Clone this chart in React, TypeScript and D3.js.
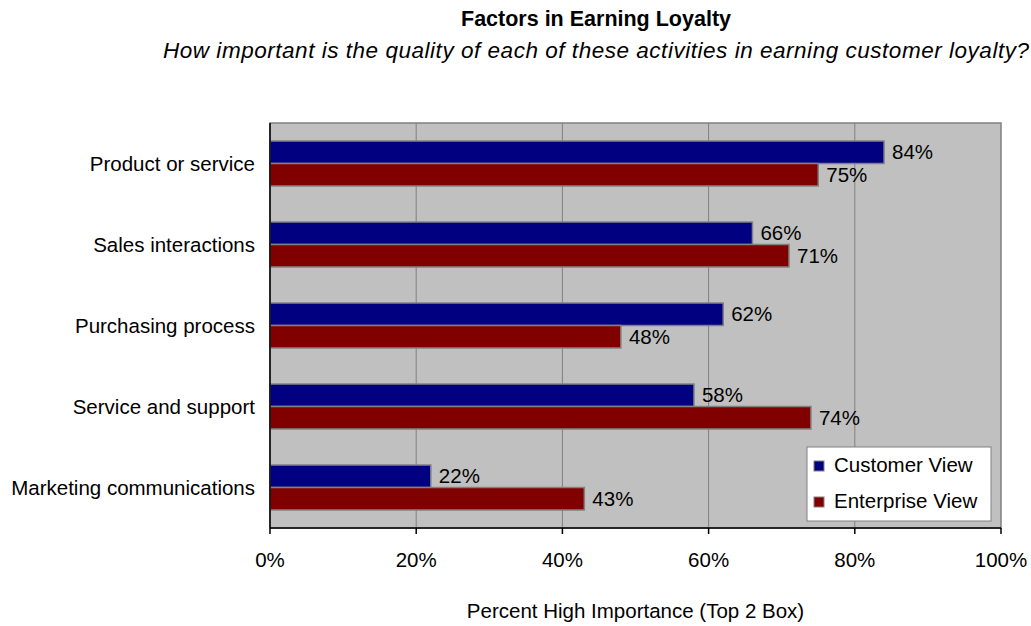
import React from 'react';
import * as d3 from 'd3';

const categories = ['Product or service', 'Sales interactions', 'Purchasing process', 'Service and support', 'Marketing communications'];
const customerView = [84, 66, 62, 58, 22];
const enterpriseView = [75, 71, 48, 74, 43];
const seriesNames = ['Customer View', 'Enterprise View'];
const seriesColors = ['#000080', '#800000'];
const xTicks = [0, 20, 40, 60, 80, 100];

const W = 1031;
const H = 626;
// plot area
const left = 270;
const right = 1001;
const top = 123;
const bottom = 528;

const font = '"Liberation Sans", Arial, sans-serif';
const fs = 20.5;

export default function App() {
  const x = d3.scaleLinear().domain([0, 100]).range([left, right]);
  const y = d3.scaleBand<string>().domain(categories).range([top, bottom]).paddingInner(0.445).paddingOuter(0.2225);
  const inner = d3.scaleBand<number>().domain([0, 1]).range([0, y.bandwidth()]);
  const series = [customerView, enterpriseView];

  return (
    <svg width={W} height={H} style={{ position: 'absolute', left: 0, top: 0 }} fontFamily={font}>
      <rect width={W} height={H} fill="#fff" />
      <text x={596} y={26} textAnchor="middle" fontWeight="bold" fontSize={21.5}>Factors in Earning Loyalty</text>
      <text x={596} y={58} textAnchor="middle" fontStyle="italic" fontSize={22.5} textLength={866} lengthAdjust="spacing">How important is the quality of each of these activities in earning customer loyalty?</text>

      <rect x={left} y={top} width={right - left} height={bottom - top} fill="#c0c0c0" stroke="#808080" strokeWidth={1.5} />
      {xTicks.slice(1, -1).map(t => (
        <line key={t} x1={x(t)} x2={x(t)} y1={top} y2={bottom} stroke="#808080" strokeWidth={1} />
      ))}

      {categories.map((c, i) => (
        <g key={c}>
          {series.map((s, k) => {
            const y0 = (y(c) as number) + (inner(k) as number);
            const h = inner.bandwidth();
            return (
              <g key={k}>
                <rect x={x(0)} y={y0} width={x(s[i]) - x(0)} height={h} fill={seriesColors[k]} stroke="#808080" strokeWidth={1.5} />
                <text x={x(s[i]) + 8} y={y0 + h / 2 + 7} fontSize={fs}>{s[i]}%</text>
              </g>
            );
          })}
          <text x={255} y={(y(c) as number) + y.bandwidth() / 2 + 7} textAnchor="end" fontSize={fs}>{c}</text>
        </g>
      ))}

      <line x1={left} x2={left} y1={top} y2={bottom} stroke="#000" strokeWidth={1.5} />
      <line x1={left} x2={right} y1={bottom} y2={bottom} stroke="#000" strokeWidth={1.5} />
      {xTicks.map(t => (
        <g key={t}>
          <line x1={x(t)} x2={x(t)} y1={bottom} y2={bottom + 6} stroke="#000" strokeWidth={1.5} />
          <text x={x(t)} y={567} textAnchor="middle" fontSize={fs}>{t}%</text>
        </g>
      ))}
      <text x={(left + right) / 2} y={618} textAnchor="middle" fontSize={fs}>Percent High Importance (Top 2 Box)</text>

      <g>
        <rect x={807} y={447} width={184} height={74} fill="#fff" stroke="#808080" strokeWidth={1} />
        {seriesNames.map((n, k) => (
          <g key={n}>
            <rect x={814} y={461 + k * 36} width={10} height={10} fill={seriesColors[k]} stroke="#808080" strokeWidth={1} />
            <text x={834} y={472 + k * 36} fontSize={fs}>{n}</text>
          </g>
        ))}
      </g>
    </svg>
  );
}
